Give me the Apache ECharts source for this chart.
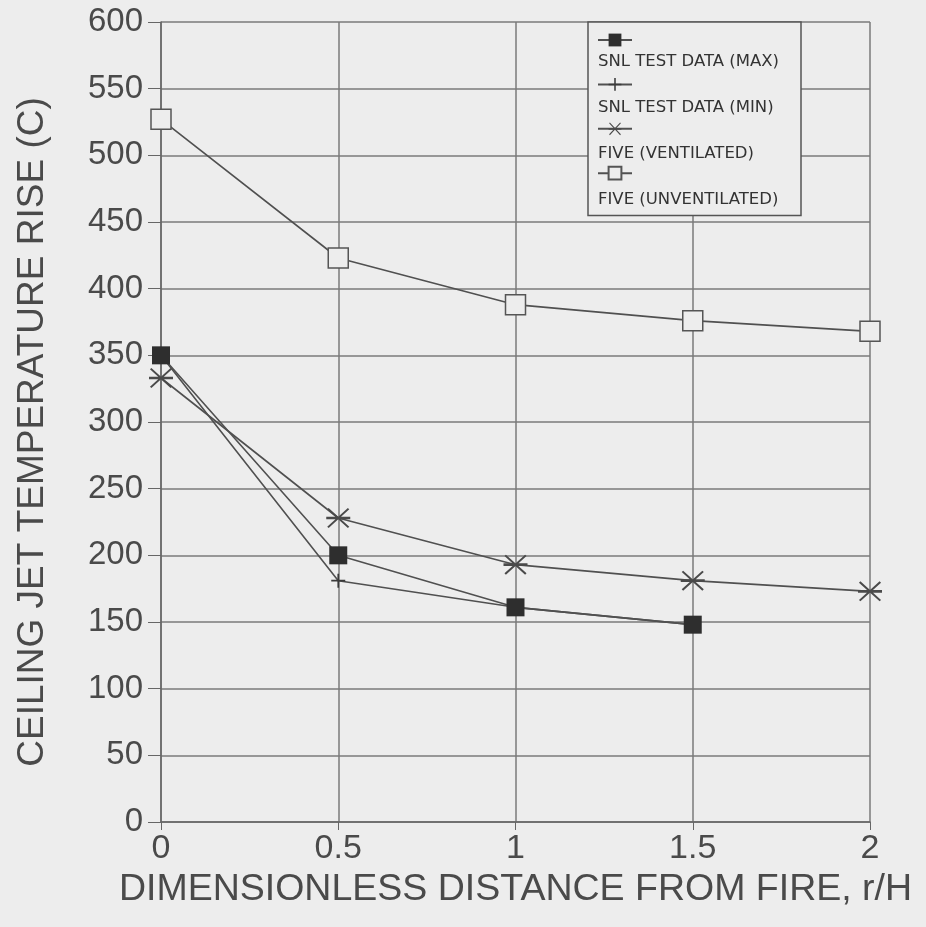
<!DOCTYPE html>
<html><head><meta charset="utf-8">
<script src="https://cdn.jsdelivr.net/npm/echarts@6/dist/echarts.min.js"></script>
<style>html,body{margin:0;padding:0;background:#ededed;}#c{width:926px;height:927px;}</style>
</head><body><div id="c"></div>
<script>
const xValues = [0, 0.5, 1, 1.5, 2];
const snlMax = [350, 200, 161, 148];
const snlMin = [350, 181, 161, 148];
const fiveVent = [333, 228, 193, 181, 173];
const fiveUnvent = [527, 423, 388, 376, 368];
const seriesNames = ['SNL TEST DATA (MAX)', 'SNL TEST DATA (MIN)', 'FIVE (VENTILATED)', 'FIVE (UNVENTILATED)'];

const pair = arr => arr.map((v, i) => [xValues[i], v]);
const plusPath = 'path://M0,4.4h10v1.2h-10z M4.4,0h1.2v10h-1.2z';
const starPath = 'path://M0,4.4h10v1.2h-10z M1.0,0.6L9.6,8.8L9.0,9.4L0.4,1.2z M9.0,0.6L9.6,1.2L1.0,9.4L0.4,8.8z';

const chart = echarts.init(document.getElementById('c'));
const lineStyle = {color: '#505050', width: 1.6};
const txt = '#4a4a4a';
chart.setOption({
  backgroundColor: '#ededed',
  animation: false,
  textStyle: {fontFamily: 'Liberation Sans'},
  grid: {left: 161, top: 22, right: 56, bottom: 105},
  xAxis: {
    type: 'value', min: 0, max: 2, interval: 0.5,
    name: 'DIMENSIONLESS DISTANCE FROM FIRE, r/H',
    nameLocation: 'middle', nameGap: 46,
    nameTextStyle: {fontSize: 37.5, color: txt},
    axisLine: {show: true, lineStyle: {color: '#666', width: 1.5}},
    axisTick: {show: true, length: 8, lineStyle: {color: '#666'}},
    axisLabel: {fontSize: 34, color: txt, margin: 10},
    splitLine: {show: true, lineStyle: {color: '#7a7a7a', width: 1.5}}
  },
  yAxis: {
    type: 'value', min: 0, max: 600, interval: 50,
    name: 'CEILING JET TEMPERATURE RISE (C)',
    nameLocation: 'middle', nameGap: 110,
    nameTextStyle: {fontSize: 37, color: txt, padding: [0, 20, 0, 0]},
    axisLine: {show: true, lineStyle: {color: '#666', width: 1.5}},
    axisTick: {show: true, length: 13, lineStyle: {color: '#666'}},
    axisLabel: {fontSize: 33, color: txt, margin: 18},
    splitLine: {show: true, lineStyle: {color: '#7a7a7a', width: 1.5}}
  },
  legend: [
    {
      orient: 'vertical', left: 588, top: 22,
      backgroundColor: '#ededed', borderColor: '#555', borderWidth: 1.5,
      padding: [10, 168, 35, 9],
      itemWidth: 34, itemHeight: 16, itemGap: 30,
      formatter: () => '',
      textStyle: {fontSize: 1},
      data: seriesNames, z: 4
    },
    {
      orient: 'vertical', left: 593, top: 53, padding: 0,
      icon: 'none', itemWidth: 0, itemHeight: 14, itemGap: 29,
      textStyle: {fontSize: 16.5, fontFamily: 'DejaVu Sans', color: '#333', lineHeight: 17},
      data: seriesNames, z: 5
    }
  ],
  series: [
    {name: seriesNames[0], type: 'line', data: pair(snlMax), symbol: 'rect', symbolSize: 18,
     itemStyle: {color: '#2e2e2e'}, lineStyle: lineStyle, z: 5},
    {name: seriesNames[1], type: 'line', data: pair(snlMin), symbol: plusPath, symbolSize: 14,
     itemStyle: {color: '#3a3a3a'}, lineStyle: lineStyle},
    {name: seriesNames[2], type: 'line', data: pair(fiveVent), symbol: starPath, symbolSize: [24, 20],
     itemStyle: {color: '#4a4a4a'}, lineStyle: lineStyle},
    {name: seriesNames[3], type: 'line', data: pair(fiveUnvent), symbol: 'rect', symbolSize: 20,
     itemStyle: {color: '#ededed', borderColor: '#555', borderWidth: 1.5}, lineStyle: lineStyle}
  ]
});
</script></body></html>
